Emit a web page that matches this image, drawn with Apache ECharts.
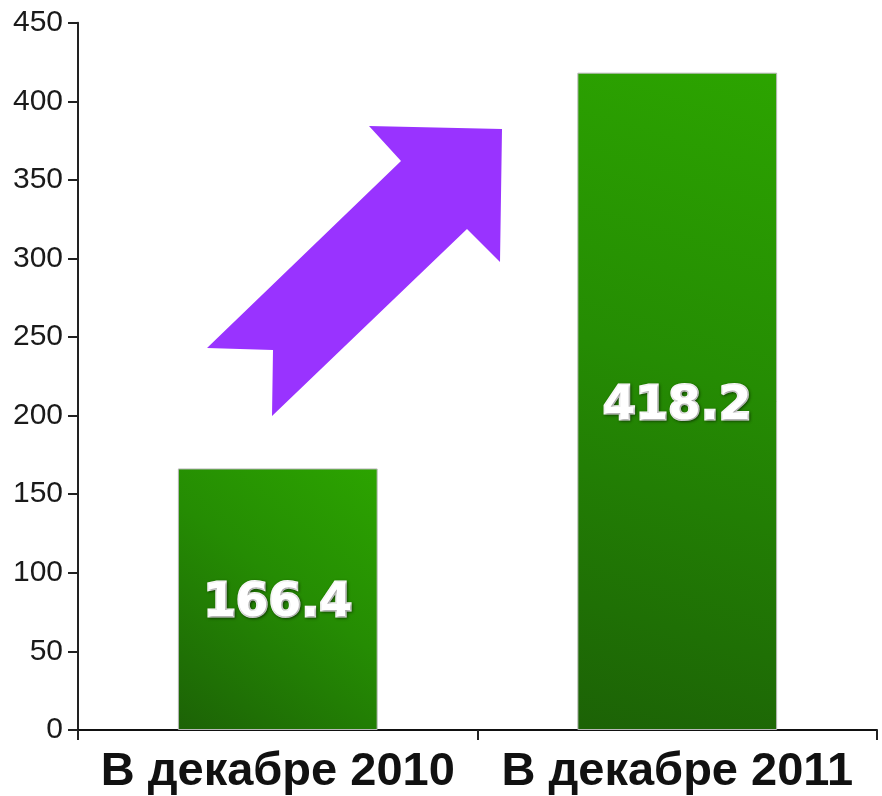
<!DOCTYPE html>
<html><head><meta charset="utf-8">
<script src="https://cdn.jsdelivr.net/npm/echarts@6/dist/echarts.min.js"></script>
<style>html,body{margin:0;padding:0;background:#fff}#c{width:882px;height:796px}</style>
</head><body><div id="c"></div>
<script>
const categories = ['В декабре 2010', 'В декабре 2011'];
const values = [166.4, 418.2];
const yTicks = [0, 50, 100, 150, 200, 250, 300, 350, 400, 450];

const chart = echarts.init(document.getElementById('c'), null, {renderer: 'canvas'});
chart.setOption({
  animation: false,
  backgroundColor: '#fff',
  grid: {left: 78, right: 5, top: 22.7, bottom: 66, containLabel: false},
  xAxis: {
    type: 'category', data: categories, boundaryGap: true,
    axisLine: {lineStyle: {color: '#111', width: 2}},
    axisTick: {show: true, length: 10, lineStyle: {color: '#222', width: 2}},
    axisLabel: {interval: 0, color: '#111', fontFamily: 'Liberation Sans, Arial, sans-serif', fontWeight: 'bold', fontSize: 47, margin: 19}
  },
  yAxis: {
    type: 'value', min: yTicks[0], max: yTicks[yTicks.length - 1], interval: yTicks[1] - yTicks[0],
    axisLine: {show: true, lineStyle: {color: '#222', width: 2}},
    axisTick: {show: true, length: 10, lineStyle: {color: '#222', width: 2}},
    splitLine: {show: false},
    axisLabel: {color: '#1a1a1a', fontFamily: 'Liberation Sans, Arial, sans-serif', fontSize: 30, margin: 15}
  },
  series: [{
    type: 'bar', data: values, barWidth: '50%',
    itemStyle: {
      color: new echarts.graphic.LinearGradient(0, 1, 1, 0, [
        {offset: 0, color: '#1c6206'},
        {offset: 0.55, color: '#258c03'},
        {offset: 1, color: '#2ca400'}
      ]),
      borderColor: '#b8b8b8', borderWidth: 1
    },
    label: {
      show: true, position: 'inside', offset: [0, 5], color: '#fff',
      fontFamily: 'DejaVu Sans, sans-serif', fontWeight: 'bold', fontSize: 47,
      textBorderColor: '#fff', textBorderWidth: 3,
      textShadowColor: 'rgba(0,0,0,0.45)', textShadowBlur: 3, textShadowOffsetX: 1, textShadowOffsetY: 1,
      formatter: p => p.value.toFixed(1)
    }
  }],
  graphic: [{
    type: 'polygon', z: 10,
    shape: {points: [[369, 126], [502, 129], [500, 262], [467, 229], [272, 416], [273, 350], [207, 348], [401, 161]]},
    style: {fill: '#9933ff'}
  }]
});
</script></body></html>
